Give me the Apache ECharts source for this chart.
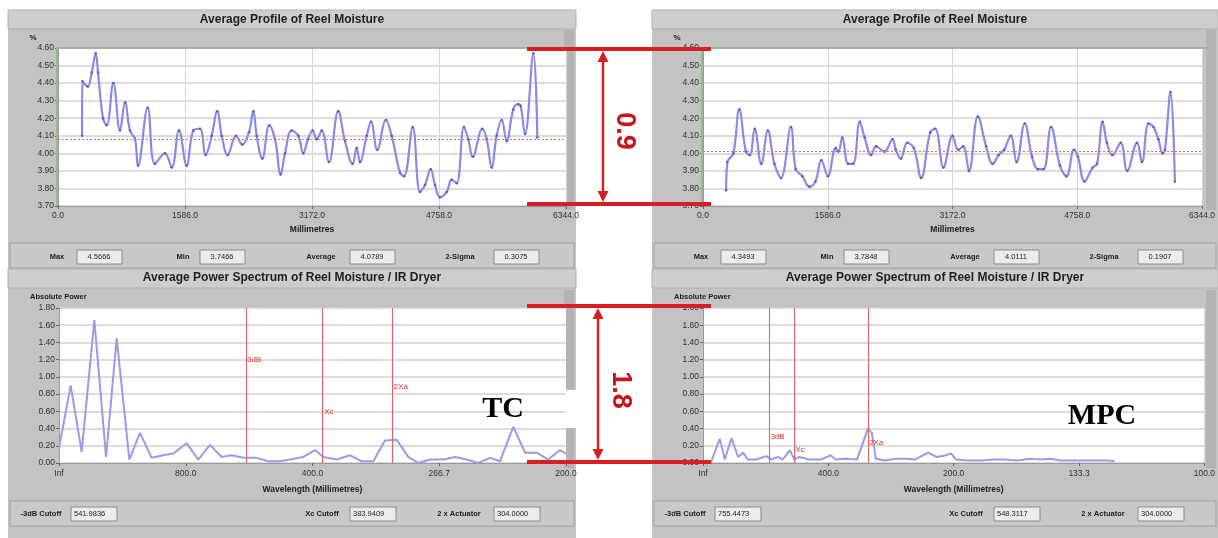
<!DOCTYPE html>
<html><head><meta charset="utf-8">
<script src="https://cdn.jsdelivr.net/npm/echarts@6/dist/echarts.min.js"></script>
<style>html,body{margin:0;padding:0;background:#fff}#c{width:1218px;height:538px}</style>
</head><body><div id="c"></div>
<script>
// ---------------- data ----------------
const tcProfileMm = [300,305,371,421,471,500,562,608,691,774,837,899,962,999,1120,1211,1336,1420,1511,1607,1690,1773,1844,1919,1989,2044,2119,2223,2302,2385,2439,2481,2551,2639,2710,2781,2835,2918,3001,3063,3122,3181,3231,3293,3384,3500,3584,3680,3730,3771,3855,3909,3987,4096,4167,4271,4321,4430,4521,4583,4654,4708,4770,4854,4916,4979,5070,5124,5179,5299,5354,5416,5478,5541,5603,5686,5748,5778,5832,5936,5986];
const tcProfileVal = [4.10,4.41,4.38,4.46,4.57,4.46,4.20,4.16,4.40,4.13,4.29,4.13,4.08,3.93,4.26,3.94,4.00,3.92,4.13,3.93,4.13,4.14,3.99,4.10,4.24,4.10,3.99,4.10,4.05,4.12,4.24,4.10,3.97,4.16,4.08,3.88,4.00,4.13,4.10,4.00,4.08,4.13,4.08,4.13,3.95,4.24,4.07,3.94,4.03,3.95,4.10,4.18,4.02,4.19,4.10,3.89,3.87,4.15,3.78,3.82,3.91,3.82,3.75,3.78,3.85,3.83,4.15,4.08,3.98,4.14,4.08,3.92,4.10,4.19,4.07,4.25,4.28,4.27,4.11,4.57,4.09];
const mpcProfileMm = [294,310,386,461,545,595,657,741,824,908,991,1117,1179,1262,1354,1430,1505,1587,1687,1721,1771,1846,1909,1993,2055,2138,2201,2306,2410,2451,2514,2597,2681,2773,2889,2952,3057,3173,3245,3307,3382,3495,3599,3683,3758,3828,3912,3987,4091,4184,4259,4329,4425,4538,4622,4717,4767,4851,4955,5010,5080,5135,5205,5310,5393,5518,5581,5665,5727,5790,5843,5873,5943,5999];
const mpcProfileVal = [3.79,3.95,4.00,4.25,4.01,3.99,4.14,3.94,4.13,3.94,3.86,4.15,3.91,3.87,3.81,3.84,3.96,3.87,4.03,4.01,4.09,3.94,3.94,4.18,4.09,3.99,4.04,4.01,4.08,4.02,3.97,4.06,4.03,3.86,4.12,4.14,3.92,4.10,4.02,4.04,3.90,4.21,4.04,3.94,3.99,4.02,4.10,3.95,4.17,3.98,3.91,3.91,4.15,3.93,3.87,4.02,3.98,3.84,3.92,3.94,4.18,4.06,3.99,4.06,3.90,4.06,3.95,4.17,4.15,4.08,4.00,4.02,4.35,3.84];
// spectrum x = spatial frequency, in multiples of 1/base (base: 800 mm TC, 400 mm MPC)
const tcSpecFreq = [0,0.092,0.179,0.279,0.371,0.455,0.555,0.639,0.731,0.823,0.902,1.007,1.099,1.191,1.284,1.363,1.454,1.560,1.651,1.744,1.822,1.927,2.020,2.085,2.191,2.296,2.388,2.480,2.572,2.664,2.756,2.835,2.927,3.032,3.124,3.217,3.308,3.400,3.479,3.584,3.677,3.769,3.860,3.953,4.0];
const tcSpecPower = [0.17,0.90,0.13,1.66,0.07,1.45,0.04,0.35,0.06,0.09,0.11,0.23,0.04,0.21,0.07,0.09,0.06,0.06,0.02,0.02,0.04,0.07,0.15,0.07,0.04,0.09,0.02,0.02,0.26,0.27,0.07,0.00,0.04,0.04,0.07,0.04,0.00,0.06,0.02,0.42,0.12,0.12,0.04,0.15,0.11];
const mpcSpecFreq = [0.061,0.134,0.174,0.227,0.280,0.319,0.359,0.425,0.504,0.543,0.596,0.635,0.694,0.728,0.767,0.847,0.939,1.018,1.058,1.137,1.229,1.316,1.347,1.379,1.453,1.532,1.612,1.691,1.796,1.862,1.915,1.980,2.020,2.112,2.218,2.324,2.403,2.508,2.613,2.692,2.771,2.850,2.957,3.036,3.141,3.233,3.286];
const mpcSpecPower = [0.00,0.28,0.04,0.29,0.07,0.12,0.04,0.04,0.08,0.04,0.07,0.04,0.15,0.04,0.07,0.04,0.04,0.09,0.04,0.05,0.04,0.40,0.35,0.05,0.03,0.05,0.05,0.04,0.12,0.07,0.08,0.11,0.04,0.03,0.03,0.04,0.04,0.03,0.05,0.04,0.05,0.03,0.03,0.03,0.03,0.03,0.02];
const tcWaveBase = 800, mpcWaveBase = 400;
const profileXMax = 6344, profileXStep = 1586;
const profileYMin = 3.7, profileYMax = 4.6, profileYStep = 0.1;
const specYMin = 0, specYMax = 1.8, specYStep = 0.2;
const tcAverage = 4.0789, mpcAverage = 4.0111;
const statLabels = ['Max', 'Min', 'Average', '2-Sigma'];
const tcStats = ['4.5666', '3.7466', '4.0789', '0.3075'];
const mpcStats = ['4.3493', '3.7848', '4.0111', '0.1907'];
const cutLabels = ['-3dB Cutoff', 'Xc Cutoff', '2 x Actuator'];
const tcCutoffs = [541.9836, 383.9409, 304.0000];
const mpcCutoffs = [755.4473, 548.3117, 304.0000];
const cutMarkNames = ['3dB', 'Xc', '2Xa'];
const tcCutLabelY = [1.20, 0.60, 0.89];
const mpcCutLabelY = [0.31, 0.15, 0.23];
const profileTitle = 'Average Profile of Reel Moisture';
const specTitle = 'Average Power Spectrum of Reel Moisture / IR Dryer';
const rangeNotes = ['0.9', '1.8'];
const panelTags = ['TC', 'MPC'];

// ---------------- chart ----------------
const chart = echarts.init(document.getElementById('c'), null, {renderer: 'canvas'});
const FONT = 'Liberation Sans, Arial, sans-serif';
const lbl = {color: '#333', fontSize: 8.5, fontFamily: FONT};

function profileX(gi) {
  return {type: 'value', gridIndex: gi, min: 0, max: profileXMax, interval: profileXStep,
    axisLabel: Object.assign({formatter: v => v.toFixed(1), margin: 5}, lbl),
    axisTick: {show: true, length: 3, lineStyle: {color: '#666'}},
    axisLine: {lineStyle: {color: '#999'}},
    splitLine: {show: true, lineStyle: {color: '#d4d4d4', width: 1}},
    name: 'Millimetres', nameLocation: 'middle', nameGap: 19,
    nameTextStyle: {fontWeight: 'bold', fontSize: 8.5, color: '#222', fontFamily: FONT}};
}
function profileY(gi) {
  return {type: 'value', gridIndex: gi, min: profileYMin, max: profileYMax, interval: profileYStep,
    axisLabel: Object.assign({formatter: v => v.toFixed(2), margin: 4}, lbl),
    axisTick: {show: true, length: 3, lineStyle: {color: '#666'}},
    axisLine: {show: true, lineStyle: {color: '#999'}},
    splitLine: {show: true, lineStyle: {color: '#d0d0d0', width: 1.5}}};
}
function specX(gi, base) {
  return {type: 'value', gridIndex: gi, min: 0, max: 4, interval: 1,
    axisLabel: Object.assign({formatter: v => v === 0 ? 'Inf' : (base / v).toFixed(1), margin: 6}, lbl),
    axisTick: {show: true, length: 3, lineStyle: {color: '#666'}},
    axisLine: {lineStyle: {color: '#999'}},
    splitLine: {show: false},
    name: 'Wavelength (Millimetres)', nameLocation: 'middle', nameGap: 22,
    nameTextStyle: {fontWeight: 'bold', fontSize: 8.5, color: '#222', fontFamily: FONT}};
}
function specY(gi) {
  return {type: 'value', gridIndex: gi, min: specYMin, max: specYMax, interval: specYStep,
    axisLabel: Object.assign({formatter: v => v.toFixed(2), margin: 4}, lbl),
    axisTick: {show: true, length: 3, lineStyle: {color: '#666'}},
    axisLine: {show: true, lineStyle: {color: '#999'}},
    splitLine: {show: true, lineStyle: {color: '#d0d0d0', width: 1.5}}};
}
function profileSeries(mm, val, avg, gi) {
  return {type: 'line', xAxisIndex: gi, yAxisIndex: gi, data: mm.map((m, i) => [m, val[i]]),
    smooth: 0.4, symbol: 'circle', symbolSize: 2.5, showAllSymbol: true,
    lineStyle: {color: '#8a8ae2', width: 2.2}, itemStyle: {color: '#5c5cc4'},
    markLine: {silent: true, symbol: 'none', label: {show: false},
      lineStyle: {color: '#e07070', type: [2, 2], width: 1}, data: [{yAxis: avg}]}};
}
function specSeries(freq, pw, base, cuts, labY, gi) {
  return {type: 'line', xAxisIndex: gi, yAxisIndex: gi, data: freq.map((f, i) => [f, pw[i]]),
    symbol: 'none', lineStyle: {color: '#9a9ae8', width: 2},
    markLine: {silent: true, symbol: 'none', label: {show: false},
      lineStyle: {color: '#e06060', type: 'solid', width: 1},
      data: cuts.map(c => ({xAxis: base / c}))},
    markPoint: {symbol: 'circle', symbolSize: 0.1, silent: true,
      label: {show: true, position: 'right', distance: 1, formatter: '{b}', color: '#e03030', fontSize: 8, fontFamily: FONT},
      data: cuts.map((c, i) => ({name: cutMarkNames[i], coord: [base / c, labY[i]]}))}};
}

// ---------------- panel decoration ----------------
const g = [];
function rect(x, y, w, h, fill, stroke, z) {
  g.push({type: 'rect', silent: true, z: z, shape: {x: x, y: y, width: w, height: h},
    style: {fill: fill, stroke: stroke || null, lineWidth: 1}});
}
function txt(x, y, s, font, fill, align, z, rot) {
  g.push({type: 'text', silent: true, z: z, x: x, y: y, rotation: rot || 0,
    style: {text: s, font: font, fill: fill, textAlign: align || 'center', textVerticalAlign: 'middle',
      align: align || 'center', verticalAlign: 'middle'}});
}
function line(x1, y1, x2, y2, stroke, w, z) {
  g.push({type: 'line', silent: true, z: z, shape: {x1: x1, y1: y1, x2: x2, y2: y2}, style: {stroke: stroke, lineWidth: w}});
}
function poly(pts, fill, z) {
  g.push({type: 'polygon', silent: true, z: z, shape: {points: pts}, style: {fill: fill}});
}

const panels = [{x: 8, w: 568, stats: tcStats, cuts: tcCutoffs}, {x: 652, w: 566, stats: mpcStats, cuts: mpcCutoffs}];
const statLabelX = [49, 175, 313, 452], statBoxX = [69, 192, 342, 486];
const cutLabelX = [33, 314, 451], cutBoxX = [63, 342, 486];
panels.forEach(p => {
  rect(p.x, 10, p.w, 528, '#c3c3c3', null, -10);
  rect(p.x, 10, p.w, 19, '#cecece', '#b2b2b2', -9);
  rect(p.x + p.w - 12, 30, 10, 180, '#b4b4b4', null, -9);
  txt(p.x + p.w / 2, 20, profileTitle, 'bold 12px ' + FONT, '#1e1e1e', 'center', -8);
  rect(p.x + 2, 243, p.w - 4, 25, '#c9c9c9', '#a2a2a2', -9);
  rect(p.x, 269, p.w, 19, '#cecece', '#b2b2b2', -9);
  rect(p.x + p.w - 12, 290, 10, 178, '#b4b4b4', null, -9);
  txt(p.x + p.w / 2, 278, specTitle, 'bold 12px ' + FONT, '#1e1e1e', 'center', -8);
  rect(p.x + 2, 501, p.w - 4, 25, '#c9c9c9', '#a2a2a2', -9);
  txt(p.x + 25, 38, '%', 'bold 8px ' + FONT, '#222', 'center', -8);
  txt(p.x + 22, 297, 'Absolute Power', 'bold 7.5px ' + FONT, '#222', 'left', -8);
  statLabels.forEach((s, i) => {
    txt(p.x + statLabelX[i], 257, s, 'bold 7.5px ' + FONT, '#222', 'center', -8);
    rect(p.x + statBoxX[i], 250, 45, 14, '#ececec', '#8c8c8c', -8);
    txt(p.x + statBoxX[i] + 22, 257, p.stats[i], '7.5px ' + FONT, '#222', 'center', -7);
  });
  cutLabels.forEach((s, i) => {
    txt(p.x + cutLabelX[i], 514, s, 'bold 7.5px ' + FONT, '#222', 'center', -8);
    rect(p.x + cutBoxX[i], 507, 46, 14, '#ececec', '#8c8c8c', -8);
    txt(p.x + cutBoxX[i] + 3, 514, p.cuts[i].toFixed(4), '7.5px ' + FONT, '#222', 'left', -7);
  });
});
// green frame on the profile plots
[[58, 566], [703, 1209]].forEach(r => {
  line(r[0] - 1, 48, r[1], 48, '#8fbf8f', 2, 5);
  line(r[0] - 1, 48, r[0] - 1, 206, '#8fbf8f', 2, 5);
});

// ---------------- red range annotations ----------------
const RED = '#d81e22';
[49, 204, 306, 462].forEach(y => line(527, y, 711, y, RED, 4, 100));
line(603, 58, 603, 196, RED, 2.5, 100);
poly([[603, 51], [597.5, 62], [608.5, 62]], RED, 100);
poly([[603, 202], [597.5, 191], [608.5, 191]], RED, 100);
line(598, 315, 598, 453, RED, 2.5, 100);
poly([[598, 308], [592.5, 319], [603.5, 319]], RED, 100);
poly([[598, 460], [592.5, 449], [603.5, 449]], RED, 100);
txt(624, 131, rangeNotes[0], 'bold 27px ' + FONT, '#c8141e', 'center', 100, -Math.PI / 2);
txt(620, 390, rangeNotes[1], 'bold 27px ' + FONT, '#c8141e', 'center', 100, -Math.PI / 2);
rect(566, 390, 12, 38, '#ffffff', null, 20);
txt(503, 409, panelTags[0], 'bold 30px Liberation Serif, Times New Roman, serif', '#000', 'center', 100);
txt(1102, 416, panelTags[1], 'bold 30px Liberation Serif, Times New Roman, serif', '#000', 'center', 100);

chart.setOption({
  animation: false,
  backgroundColor: '#ffffff',
  grid: [
    {left: 58, top: 48, width: 508, height: 158, show: true, backgroundColor: '#fff', borderWidth: 0},
    {left: 703, top: 48, width: 506, height: 158, show: true, backgroundColor: '#fff', borderWidth: 0},
    {left: 59, top: 308, width: 507, height: 155, show: true, backgroundColor: '#fff', borderWidth: 0},
    {left: 703, top: 308, width: 506, height: 155, show: true, backgroundColor: '#fff', borderWidth: 0}
  ],
  xAxis: [profileX(0), profileX(1), specX(2, tcWaveBase), specX(3, mpcWaveBase)],
  yAxis: [profileY(0), profileY(1), specY(2), specY(3)],
  series: [
    profileSeries(tcProfileMm, tcProfileVal, tcAverage, 0),
    profileSeries(mpcProfileMm, mpcProfileVal, mpcAverage, 1),
    specSeries(tcSpecFreq, tcSpecPower, tcWaveBase, tcCutoffs, tcCutLabelY, 2),
    specSeries(mpcSpecFreq, mpcSpecPower, mpcWaveBase, mpcCutoffs, mpcCutLabelY, 3)
  ],
  graphic: {elements: g}
});
</script>
</body></html>
